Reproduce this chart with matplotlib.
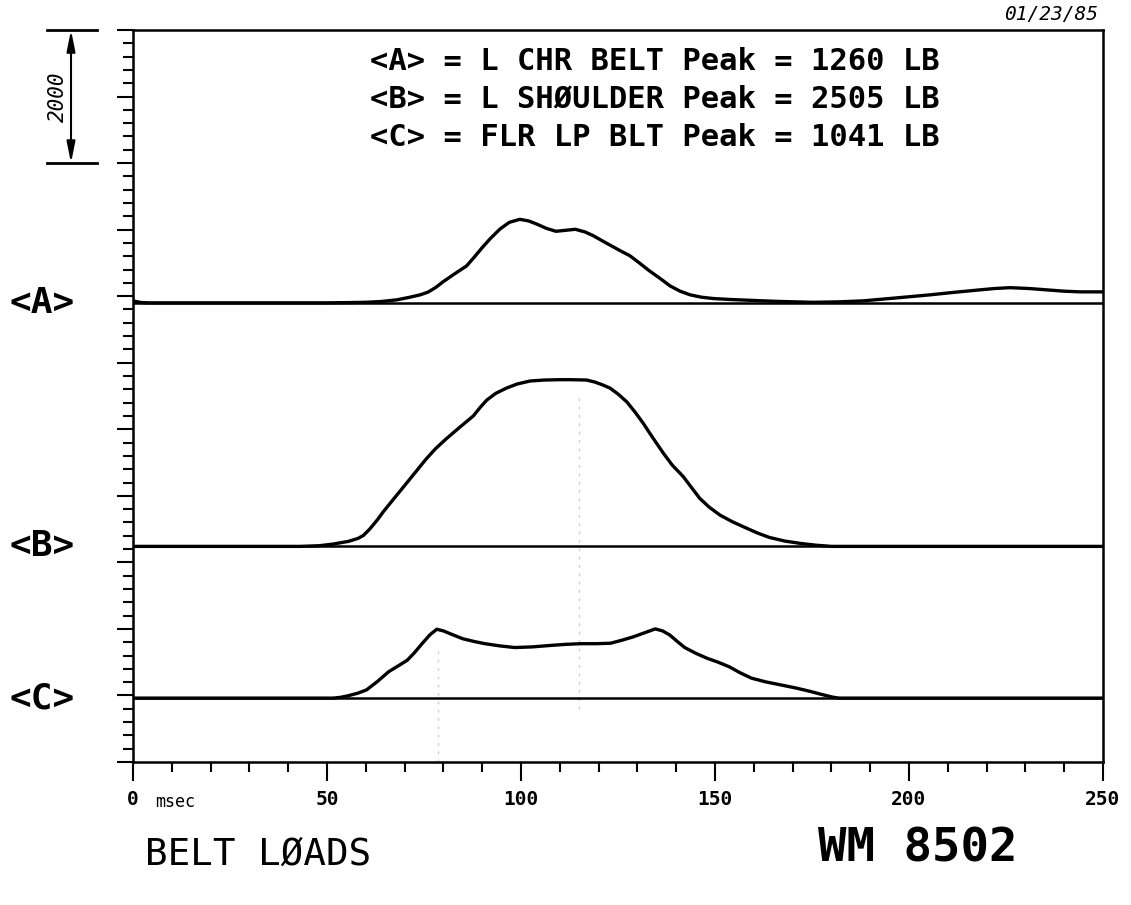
import numpy as np
import matplotlib
matplotlib.use("Agg")
from matplotlib import pyplot as plt

plt.rcParams['font.family'] = ['DejaVu Sans Mono', 'DejaVu Sans']

# time axis (msec) and belt loads (lb)
t_a = [0, 2, 4, 50, 55, 60, 64, 68, 71, 74, 76, 78, 80, 83, 86, 88, 90, 92, 94.6, 97,
       99.7, 102, 104, 106.5, 109, 111.5, 114, 116.5, 118.6, 121, 123.8, 126, 128, 130.5,
       133, 136, 138.4, 141, 143.6, 146.5, 149.5, 154, 158.2, 166, 175.3, 182, 188.2, 196,
       205.4, 212, 218.3, 222, 226, 231, 235.5, 240, 244, 250]
load_a = [30, 5, 0, 0, 3, 8, 20, 45, 80, 120, 160, 230, 320, 440, 556, 690, 830, 960, 1110, 1210,
          1255, 1230, 1185, 1120, 1075, 1090, 1105, 1065, 1010, 930, 840, 770, 710, 600,
          485, 360, 255, 175, 120, 85, 65, 50, 40, 22, 8, 15, 30, 70,
          120, 160, 195, 215, 228, 215, 195, 175, 165, 165]

t_b = [0, 43, 48, 51.6, 55.5, 58, 59.4, 61, 63, 64.5, 67, 70.5, 73, 75.5, 78, 80.8, 84,
       87.7, 89.5, 91.2, 93.5, 96.3, 99, 102.3, 106, 110, 113, 116.9, 119, 120.9, 122.9,
       125, 127.3, 129.5, 131.5, 134, 136.7, 139, 141.8, 144, 146.1, 148.5, 151.3, 154.5,
       157.7, 161, 164, 168, 172, 176, 180, 250]
load_b = [0, 0, 10, 35, 75, 120, 165, 260, 400, 520, 700, 950, 1130, 1310, 1470, 1620, 1780,
          1960, 2090, 2200, 2300, 2380, 2440, 2485, 2500, 2505, 2505, 2500, 2470, 2430, 2380,
          2290, 2170, 2010, 1850, 1630, 1400, 1220, 1050, 880, 720, 590, 470, 370,
          285, 200, 135, 80, 45, 18, 0, 0]

t_c = [0, 51.6, 53.5, 55.4, 58, 60.2, 63, 65.9, 68.5, 70.7, 72.5, 74.5, 76.5, 78.3, 80,
       82.5, 85, 88, 90.7, 94.5, 98.4, 103, 107.9, 111.5, 115.5, 119.5, 123.1, 126, 128.9,
       132, 134.6, 136.5, 138.4, 140.3, 142.2, 145, 147.9, 150.8, 153.7, 156.5, 159.4, 163,
       167, 171, 174.6, 177.5, 180.3, 182, 250]
load_c = [0, 0, 12, 35, 75, 124, 250, 397, 490, 570, 680, 818, 950, 1035, 1010,
          950, 892, 850, 818, 785, 760, 770, 793, 808, 818, 818, 825, 870, 920,
          985, 1040, 1010, 946, 850, 760, 675, 600, 540, 470, 380, 300, 245,
          198, 150, 100, 55, 15, 0, 0]

channels = ['<A>', '<B>', '<C>']
offsets = [6900, 3240, 960]      # baseline of each trace on the shared load scale
legend_lines = ['<A> = L CHR BELT Peak = 1260 LB',
                '<B> = L SH\u00d8ULDER Peak = 2505 LB',
                '<C> = FLR LP BLT Peak = 1041 LB']
xticks = [0, 50, 100, 150, 200, 250]
xtick_labels = ['0', '50', '100', '150', '200', '250']
scale_lb = 2000
y_top = 11000

fig = plt.figure(figsize=(11.31, 9.05), dpi=100)
ax = fig.add_axes([133 / 1131, 143 / 905, 970 / 1131, 732 / 905])

traces = [(t_a, load_a), (t_b, load_b), (t_c, load_c)]
for (t, v), off in zip(traces, offsets):
    ax.axhline(off, color='black', lw=1.8, zorder=2)
    ax.plot(t, np.array(v) + off, color='black', lw=2.4, zorder=3,
            solid_joinstyle='round', solid_capstyle='round')

# faint cursor marks from the plotter
ax.plot([78.5, 78.5], [0, 1700], color='#d0d0d0', lw=1, ls=(0, (2, 4)), zorder=1)
ax.plot([115, 115], [800, 5500], color='#d0d0d0', lw=1, ls=(0, (2, 4)), zorder=1)

ax.set_xlim(0, 250)
ax.set_ylim(0, y_top)
for s in ax.spines.values():
    s.set_linewidth(1.8)

ax.set_xticks(xticks)
ax.set_xticklabels(xtick_labels, fontsize=14, fontweight='bold')
ax.set_xticks(np.arange(0, 251, 10), minor=True)
ax.set_yticks(np.arange(0, y_top + 1, 1000))
ax.set_yticks(np.arange(0, y_top + 1, 200), minor=True)
ax.set_yticklabels([])
ax.tick_params(axis='x', which='major', direction='out', length=14, width=1.5, pad=6)
ax.tick_params(axis='x', which='minor', direction='out', length=7, width=1.5)
ax.tick_params(axis='y', which='major', direction='out', length=11.5, width=1.5)
ax.tick_params(axis='y', which='minor', direction='out', length=7, width=1.5)

trans = ax.get_yaxis_transform()
ax.text(22 / 970, -0.054, 'msec', transform=ax.transAxes,
        fontsize=12, ha='left', va='center')

for lab, off in zip(channels, offsets):
    ax.text(-91 / 970, off, lab, transform=trans, fontsize=26, fontweight='bold',
            ha='center', va='center', clip_on=False)

# 2000 lb scale bar
x0, x1, xm = -86 / 970, -36 / 970, -62 / 970
for yy in [y_top, y_top - scale_lb]:
    ax.plot([x0, x1], [yy, yy], transform=trans, color='black', lw=2, clip_on=False)
ax.annotate('', xy=(xm, y_top), xytext=(xm, y_top - scale_lb),
            xycoords=trans, textcoords=trans,
            arrowprops=dict(arrowstyle='<|-|>,head_length=0.9,head_width=0.18',
                            color='black', lw=1.5, mutation_scale=14,
                            shrinkA=0, shrinkB=0))
ax.text(-75 / 970, y_top - scale_lb / 2, str(scale_lb), transform=trans, rotation=90,
        fontsize=15, style='italic', ha='center', va='center', clip_on=False)

for i, line in enumerate(legend_lines):
    fig.text(370 / 1131, 1 - (61 + 38.5 * i) / 905, line, fontsize=22,
             fontweight='bold', ha='left', va='center')

fig.text(1098 / 1131, 1 - 15 / 905, '01/23/85', fontsize=14, style='italic',
         ha='right', va='center')
fig.text(145 / 1131, 1 - 855 / 905, 'BELT L\u00d8ADS', fontsize=27, ha='left', va='center')
fig.text(818 / 1131, 1 - 849 / 905, 'WM 8502', fontsize=34, fontweight='bold',
         ha='left', va='center')

fig.savefig('out.png', dpi=100)
